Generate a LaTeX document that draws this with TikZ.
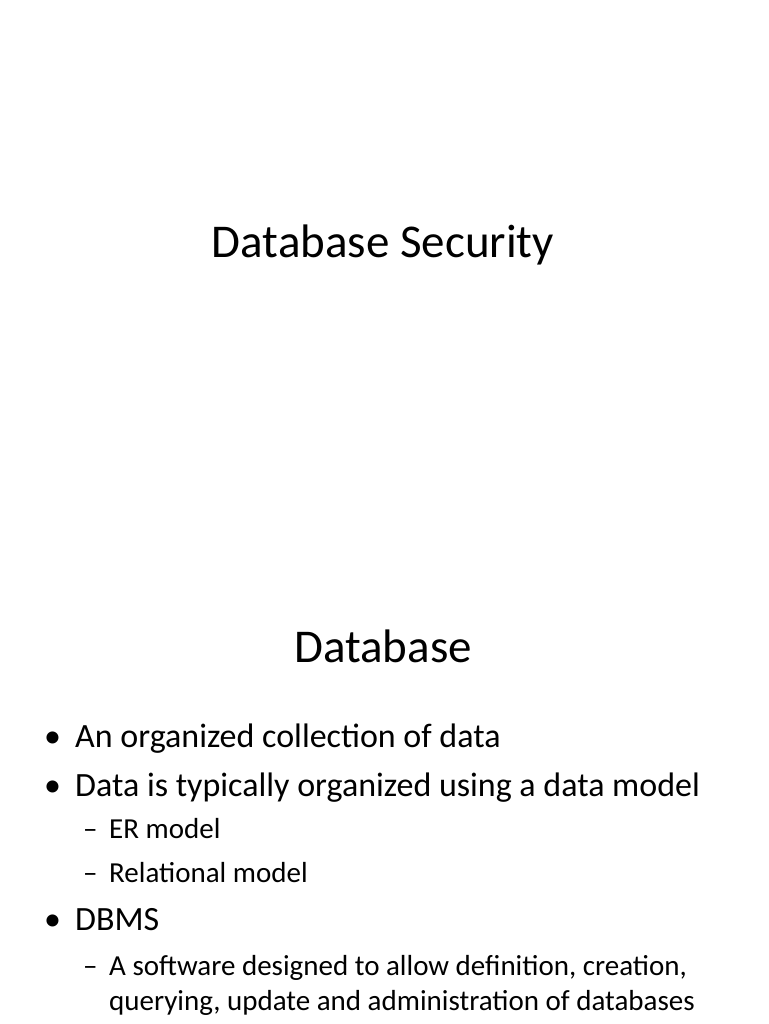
\documentclass[tikz,border=0pt]{standalone}
\usepackage{fontspec}
\setmainfont{Carlito}
\begin{document}
\begin{tikzpicture}[x=1pt,y=-1pt,
  title/.style={anchor=base,font=\fontsize{47}{56}\selectfont,inner sep=0},
  bul/.style={anchor=base west,font=\fontsize{34}{41}\selectfont,inner sep=0},
  sub/.style={anchor=base west,font=\fontsize{29}{35}\selectfont,inner sep=0,align=left}]
\useasboundingbox[fill=white] (0,0) rectangle (768,1024);
\node[title] (t1) at (383,257) {Database Security};
\node[title] (t2) at (383,662) {Database};
\node[bul] (b1d) at (44,747) {•};
\node[bul] (b1) at (75,747) {An organized collection of data};
\node[bul] (b2d) at (44,796) {•};
\node[bul] (b2) at (75,796) {Data is typically organized using a data model};
\node[sub] (s1d) at (83,838) {–};
\node[sub] (s1) at (109,838) {ER model};
\node[sub] (s2d) at (83,882) {–};
\node[sub] (s2) at (109,882) {Relational model};
\node[bul] (b3d) at (44,930) {•};
\node[bul] (b3) at (75,930) {DBMS};
\node[sub] (s3d) at (83,975) {–};
\node[sub] (s3) at (109,975) {A software designed to allow definition, creation,};
\node[sub] (s4) at (109,1010) {querying, update and administration of databases};
\end{tikzpicture}
\end{document}
